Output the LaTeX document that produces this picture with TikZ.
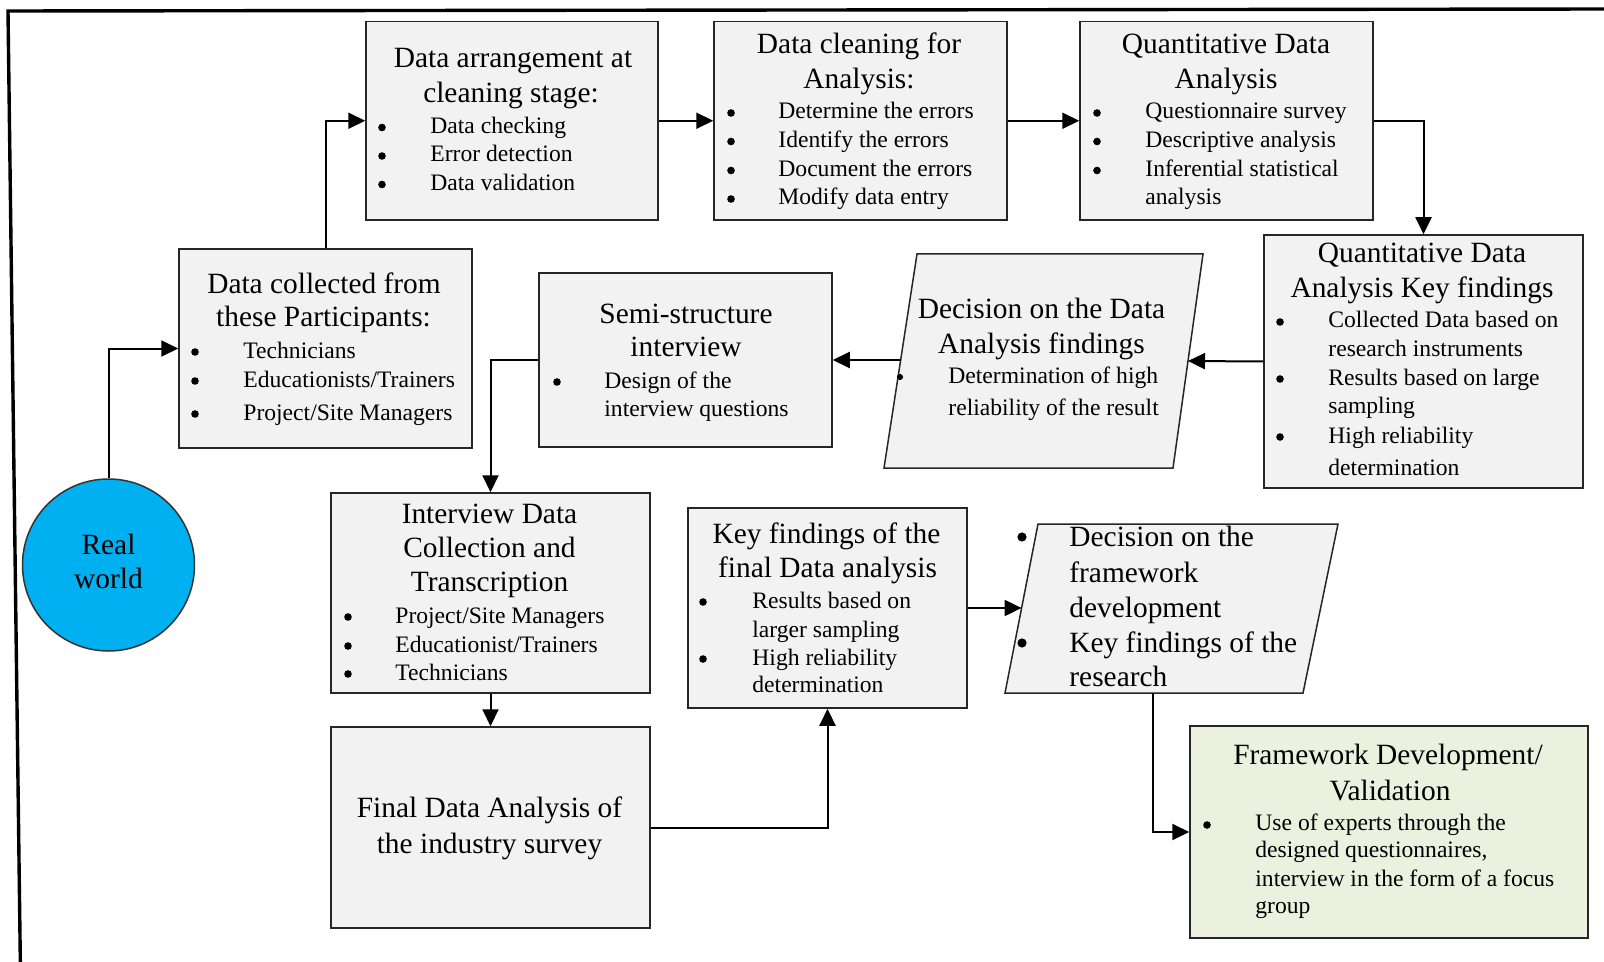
\documentclass[tikz,border=0pt]{standalone}
\usepackage{fontspec}
\setmainfont{LiberationSerif}[Extension=.ttf,UprightFont=*-Regular,BoldFont=*-Bold,ItalicFont=*-Italic,BoldItalicFont=*-BoldItalic]
\usetikzlibrary{arrows.meta,fit}
\definecolor{boxgray}{HTML}{F2F2F2}
\definecolor{fwgreen}{HTML}{EBF1DE}
\definecolor{skyblue}{HTML}{00B0F0}
\begin{document}
\begin{tikzpicture}[x=0.5pt,y=-0.5pt,
  box/.style={draw=black!85,line width=0.75pt,fill=boxgray,inner sep=0pt},
  paraline/.style={draw=black!85,line width=0.75pt,fill=boxgray},
  ttl/.style={font=\fontsize{14.7}{17.5}\selectfont,inner sep=0pt,anchor=base},
  ttlw/.style={ttl,anchor=base west},
  itm/.style={font=\fontsize{11.8}{14}\selectfont,inner sep=0pt,anchor=base west},
  dotb/.style={circle,fill=black,inner sep=0pt,minimum size=3.8pt},
  arr/.style={draw=black,line width=1pt,-{Triangle[length=8.5pt,width=8pt]}},
  frameline/.style={line width=1.7pt,draw=black}]
\useasboundingbox (0,0) rectangle (1604,962);
\fill[white] (0,0) rectangle (1604,962);
% page frame (top and left edges only)
\draw[frameline] (1615,9) -- (8,11) -- (20.5,975);

% ---------- shapes ----------
\node[circle,draw=black!80,line width=0.75pt,fill=skyblue,minimum size=86pt,inner sep=0pt] (rw) at (108.5,565) {};
\node[box,fit={(366,21.5)(658,220)}] (arr) {};
\node[box,fit={(714,21.5)(1007,220)}] (cln) {};
\node[box,fit={(1080,21.5)(1373,220)}] (qda) {};
\node[box,fit={(1264,235)(1583,488)}] (kf) {};
\node[box,fit={(539,273)(832,447)}] (sem) {};
\node[box,fit={(179,249)(472,448)}] (dcol) {};
\node[box,fit={(331,493)(650,693)}] (intv) {};
\node[box,fit={(331,727)(650,928)}] (fin) {};
\node[box,fit={(688,508)(967,708)}] (kff) {};
\node[box,fill=fwgreen,fit={(1190,726)(1588,938)}] (fwk) {};

% decision parallelograms (corners and connection points)
\coordinate (decTL) at (917,254);  \coordinate (decTR) at (1203,254);
\coordinate (decBR) at (1173,468); \coordinate (decBL) at (884,468);
\coordinate (decR) at (1188,361);  \coordinate (decL) at (900.6,360);
\draw[paraline] (decTL) -- (decTR) -- (decBR) -- (decBL) -- cycle;

\coordinate (fdecTL) at (1038,524); \coordinate (fdecTR) at (1338,524);
\coordinate (fdecBR) at (1303,693); \coordinate (fdecBL) at (1005,693);
\coordinate (fdecL) at (1021.6,608); \coordinate (fdecS) at (1153,693);
\draw[paraline] (fdecTL) -- (fdecTR) -- (fdecBR) -- (fdecBL) -- cycle;

% ---------- texts ----------
% Real world
\node[ttl] (rw1) at (108.5,554) {Real};
\node[ttl] (rw2) at (108.5,588) {world};

% Data arrangement
\node[ttl] (arr1) at (513,68) {Data arrangement at};
\node[ttl] (arr2) at (511,103) {cleaning stage:};
\node[dotb] (arrb1) at (382,127.5) {};
\node[dotb] (arrb2) at (382,156) {};
\node[dotb] (arrb3) at (382,184.5) {};
\node[itm] (arri1) at (430,133.5) {Data checking};
\node[itm] (arri2) at (430,162) {Error detection};
\node[itm] (arri3) at (430,190.5) {Data validation};

% Data cleaning
\node[ttl] (cln1) at (859,54) {Data cleaning for};
\node[ttl] (cln2) at (859,89) {Analysis:};
\node[dotb] (clnb1) at (731,113) {};
\node[dotb] (clnb2) at (731,141.5) {};
\node[dotb] (clnb3) at (731,170.5) {};
\node[dotb] (clnb4) at (731,199) {};
\node[itm] (clni1) at (778,119) {Determine the errors};
\node[itm] (clni2) at (778,147.5) {Identify the errors};
\node[itm] (clni3) at (778,176.5) {Document the errors};
\node[itm] (clni4) at (778,205) {Modify data entry};

% Quantitative data analysis
\node[ttl] (qda1) at (1226,54) {Quantitative Data};
\node[ttl] (qda2) at (1226,89) {Analysis};
\node[dotb] (qdab1) at (1097,113) {};
\node[dotb] (qdab2) at (1097,141.5) {};
\node[dotb] (qdab3) at (1097,170.5) {};
\node[itm] (qdai1) at (1145,119) {Questionnaire survey};
\node[itm] (qdai2) at (1145,147.5) {Descriptive analysis};
\node[itm] (qdai3) at (1145,176.5) {Inferential statistical};
\node[itm] (qdai4) at (1145,205) {analysis};

% Quantitative key findings
\node[ttl] (kf1) at (1422,263) {Quantitative Data};
\node[ttl] (kf2) at (1422,298) {Analysis Key findings};
\node[dotb] (kfb1) at (1280,322) {};
\node[dotb] (kfb2) at (1280,379) {};
\node[dotb] (kfb3) at (1280,437) {};
\node[itm] (kfi1) at (1328,328) {Collected Data based on};
\node[itm] (kfi2) at (1328,357) {research instruments};
\node[itm] (kfi3) at (1328,385) {Results based on large};
\node[itm] (kfi4) at (1328,413.5) {sampling};
\node[itm] (kfi5) at (1328,443) {High reliability};
\node[itm] (kfi6) at (1328,475) {determination};

% Decision on the data analysis findings
\node[ttl] (dec1) at (1041.5,319) {Decision on the Data};
\node[ttl] (dec2) at (1041.5,353) {Analysis findings};
\node[dotb,minimum size=3.1pt] (decb1) at (900,377) {};
\node[itm] (deci1) at (948,383) {Determination of high};
\node[itm] (deci2) at (948,415) {reliability of the result};

% Semi-structure interview
\node[ttl] (sem1) at (686,323) {Semi-structure};
\node[ttl] (sem2) at (686,357) {interview};
\node[dotb] (semb1) at (557,382) {};
\node[itm] (semi1) at (604,388) {Design of the};
\node[itm] (semi2) at (604,416) {interview questions};

% Data collected
\node[ttl] (dcol1) at (324,293) {Data collected from};
\node[ttl] (dcol2) at (323.5,327) {these Participants:};
\node[dotb] (dcolb1) at (195,352) {};
\node[dotb] (dcolb2) at (195,381) {};
\node[dotb] (dcolb3) at (195,414) {};
\node[itm] (dcoli1) at (243,358) {Technicians};
\node[itm] (dcoli2) at (243,387) {Educationists/Trainers};
\node[itm] (dcoli3) at (243,420) {Project/Site Managers};

% Interview data collection
\node[ttl] (intv1) at (489.5,523) {Interview Data};
\node[ttl] (intv2) at (489.5,557) {Collection and};
\node[ttl] (intv3) at (489.5,591) {Transcription};
\node[dotb] (intvb1) at (348,617) {};
\node[dotb] (intvb2) at (348,646) {};
\node[dotb] (intvb3) at (348,674) {};
\node[itm] (intvi1) at (395,623) {Project/Site Managers};
\node[itm] (intvi2) at (395,652) {Educationist/Trainers};
\node[itm] (intvi3) at (395,680) {Technicians};

% Final data analysis
\node[ttl] (fin1) at (489.5,817) {Final Data Analysis of};
\node[ttl] (fin2) at (489.5,853) {the industry survey};

% Key findings of the final analysis
\node[ttl] (kff1) at (826.5,543) {Key findings of the};
\node[ttl] (kff2) at (827.5,577) {final Data analysis};
\node[dotb] (kffb1) at (703,602) {};
\node[dotb] (kffb2) at (703,659) {};
\node[itm] (kffi1) at (752,608) {Results based on};
\node[itm] (kffi2) at (752,637) {larger sampling};
\node[itm] (kffi3) at (752,665) {High reliability};
\node[itm] (kffi4) at (752,692) {determination};

% Decision on the framework development
\node[dotb,minimum size=4.6pt] (fdecb1) at (1022,537) {};
\node[dotb,minimum size=4.6pt] (fdecb2) at (1022,643) {};
\node[ttlw] (fdec1) at (1069,546) {Decision on the};
\node[ttlw] (fdec2) at (1069,582) {framework};
\node[ttlw] (fdec3) at (1069,617) {development};
\node[ttlw] (fdec4) at (1069,652) {Key findings of the};
\node[ttlw] (fdec5) at (1069,686) {research};

% Framework development / validation
\node[ttl] (fwk1) at (1388,764) {Framework Development/};
\node[ttl] (fwk2) at (1390,800) {Validation};
\node[dotb] (fwkb1) at (1207,825) {};
\node[itm] (fwki1) at (1255,830) {Use of experts through the};
\node[itm] (fwki2) at (1255,857) {designed questionnaires,};
\node[itm] (fwki3) at (1255,886) {interview in the form of a focus};
\node[itm] (fwki4) at (1255,913) {group};

% ---------- connectors ----------
\draw[arr] (rw.north) |- (dcol.west);
\draw[arr] (dcol.north) |- (arr.west);
\draw[arr] (arr.east) -- (cln.west);
\draw[arr] (cln.east) -- (qda.west);
\draw[arr] (qda.east) -| (kf.north);
\draw[arr] (kf.west) -- (decR);
\draw[arr] (decL) -- (sem.east);
\draw[arr] (sem.west) -| (intv.north);
\draw[arr] (intv.south) -- (fin.north);
\draw[arr] (fin.east) -| (kff.south);
\draw[arr] (kff.east) -- (fdecL);
\draw[arr] (fdecS) |- (fwk.west);
\end{tikzpicture}
\end{document}
